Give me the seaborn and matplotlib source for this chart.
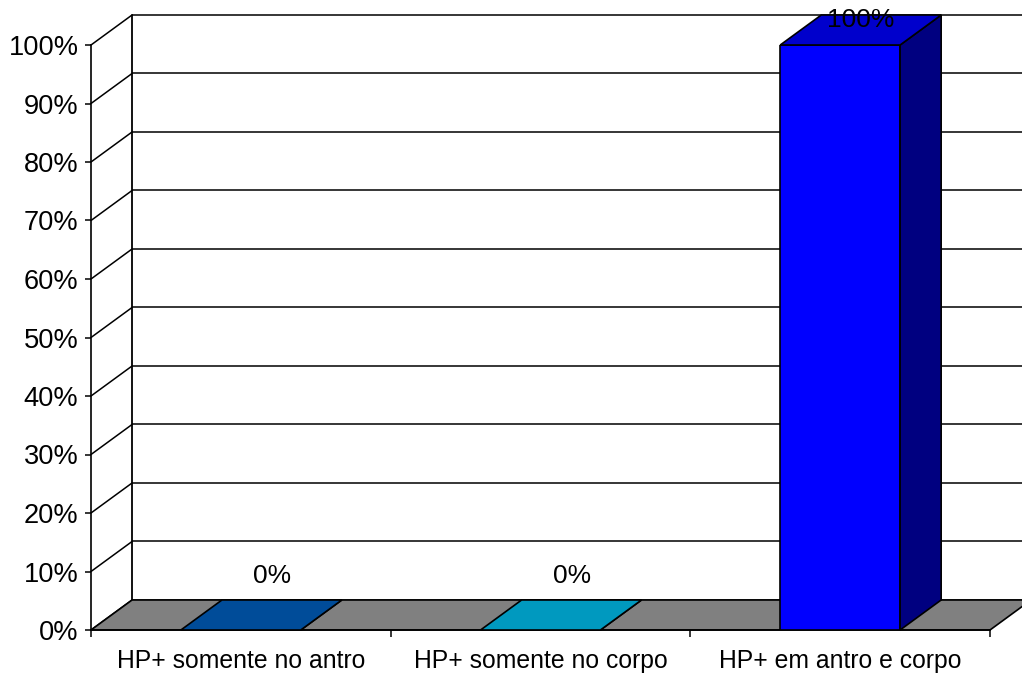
import matplotlib
matplotlib.use("Agg")
import matplotlib.pyplot as plt
from matplotlib.patches import Polygon, Rectangle
from matplotlib.ticker import FuncFormatter
import seaborn as sns
import pandas as pd

# Data
categorias = ["HP+ somente no antro", "HP+ somente no corpo", "HP+ em antro e corpo"]
valores = [0, 0, 100]
rotulos = ["0%", "0%", "100%"]
yticks = [0, 10, 20, 30, 40, 50, 60, 70, 80, 90, 100]

# Face colours of each bar (front, top, side shading)
cor_frente = ["#005FBF", "#00BFEF", "#0000FF"]
cor_topo = ["#004C99", "#0099BF", "#0000CC"]
cor_lado = ["#003060", "#006078", "#000080"]

# Depth of the pseudo-3D box, in data units
DX = 0.137
DY = 5.13
FS_CAT = 17.8
FS_Y = 19.6
FS_VAL = 19.0

sns.set_style("white")
plt.rcParams["font.family"] = ["Liberation Sans", "DejaVu Sans"]

fig = plt.figure(figsize=(10.22, 6.75), dpi=100)
ax = fig.add_axes([91 / 1022, 45 / 675, 899 / 1022, 585 / 675])

df = pd.DataFrame({"categoria": categorias, "valor": valores})

# Front faces of the bars
sns.barplot(data=df, x="categoria", y="valor", hue="categoria",
            palette=cor_frente, saturation=1, width=0.4, edgecolor="black",
            linewidth=1.2, legend=False, ax=ax, zorder=3)
barras = sorted([p for p in ax.patches if isinstance(p, Rectangle)],
                key=lambda r: r.get_x())

# Back wall gridlines and outline
x0, x1 = -0.5, 2.5
for t in yticks:
    ax.plot([x0 + DX, x1 + DX], [t + DY, t + DY], color="black", lw=1.1,
            zorder=0.5, clip_on=False, solid_capstyle="butt")
    ax.plot([x0, x0 + DX], [t, t + DY], color="black", lw=1.1,
            zorder=0.5, clip_on=False)
ax.plot([x0 + DX, x0 + DX], [DY, 100 + DY], color="black", lw=1.3,
        zorder=0.6, clip_on=False)

# Floor
floor = Polygon([(x0, 0), (x1, 0), (x1 + DX, DY), (x0 + DX, DY)],
                closed=True, facecolor="#808080", edgecolor="black", lw=1.2,
                zorder=1, clip_on=False)
ax.add_patch(floor)

# Top and side faces built from each bar
for i, p in enumerate(barras):
    bx, bw, bh = p.get_x(), p.get_width(), p.get_height()
    lado = Polygon([(bx + bw, 0), (bx + bw + DX, DY), (bx + bw + DX, bh + DY),
                    (bx + bw, bh)], closed=True, facecolor=cor_lado[i],
                   edgecolor="black", lw=1.2, zorder=3, clip_on=False)
    topo = Polygon([(bx, bh), (bx + bw, bh), (bx + bw + DX, bh + DY),
                    (bx + DX, bh + DY)], closed=True, facecolor=cor_topo[i],
                   edgecolor="black", lw=1.2, zorder=3.1, clip_on=False)
    ax.add_patch(lado)
    ax.add_patch(topo)

# Value labels, kept inside the figure
for i, (v, r) in enumerate(zip(valores, rotulos)):
    y = min(v + 9.2, 104.3)
    dx = 0.105 if v + 9.2 <= 104.3 else 0.067
    ax.text(i + dx, y, r, ha="center", va="center", fontsize=FS_VAL,
            color="black", zorder=6, clip_on=False)

ax.set_xlim(x0, x1)
ax.set_ylim(0, 100)

# Axes styling
for s in ["top", "right"]:
    ax.spines[s].set_visible(False)
for s in ["left", "bottom"]:
    ax.spines[s].set_visible(True)
    ax.spines[s].set_color("black")
    ax.spines[s].set_linewidth(1.2)
    ax.spines[s].set_zorder(2)

ax.set_yticks(yticks)
ax.yaxis.set_major_formatter(FuncFormatter(lambda v, _: f"{v:.0f}%"))
ax.tick_params(axis="y", left=True, length=4.5, width=1.1, pad=4.5,
               labelsize=FS_Y, colors="black")
ax.set_xticks([0, 1, 2])
ax.set_xticklabels(categorias)
ax.set_xticks([-0.5, 0.5, 1.5, 2.5], minor=True)
ax.tick_params(axis="x", which="major", bottom=False, length=0, pad=14,
               labelsize=FS_CAT, colors="black")
ax.tick_params(axis="x", which="minor", bottom=True, length=5, width=1.1,
               color="black")
ax.set_xlabel("")
ax.set_ylabel("")
ax.grid(False)
ax.patch.set_alpha(0)

fig.savefig("out.png", dpi=100)
